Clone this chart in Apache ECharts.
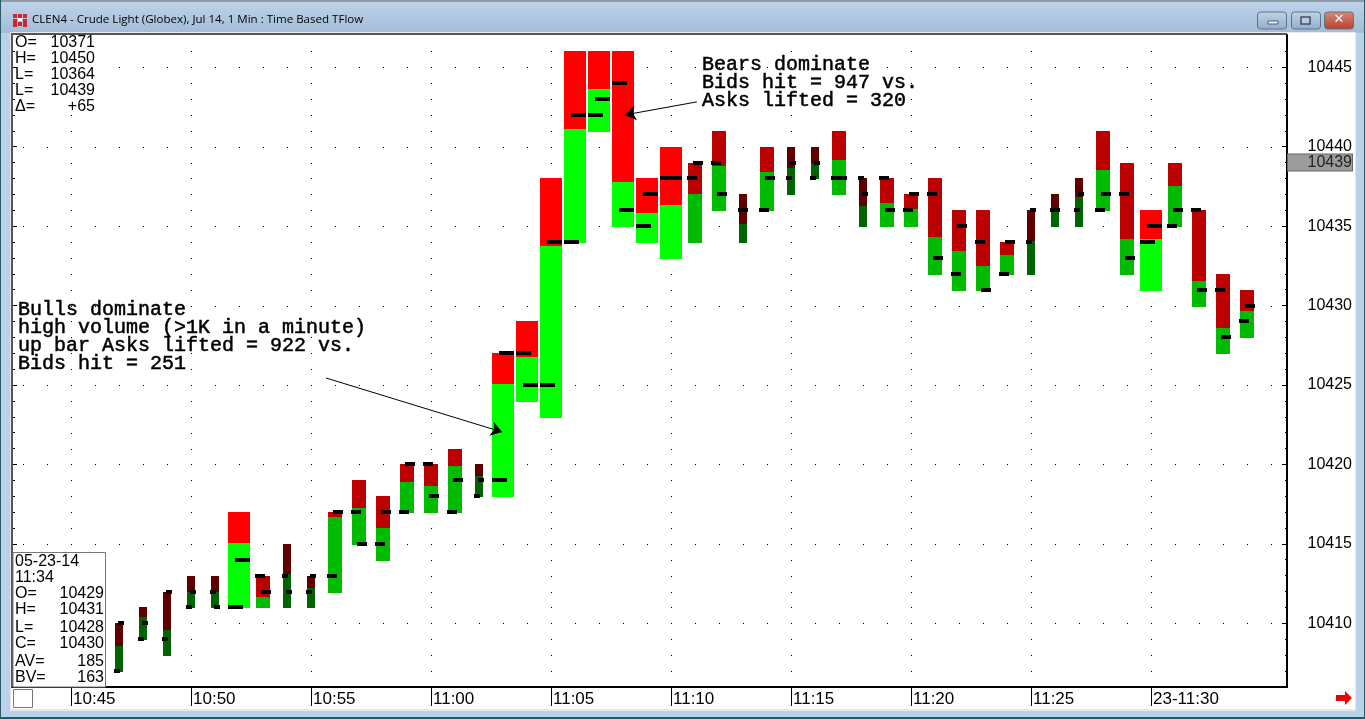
<!DOCTYPE html>
<html><head><meta charset="utf-8">
<style>html,body{margin:0;padding:0;background:#b9d1ea}#c{width:1365px;height:719px}</style>
<script src="https://cdn.jsdelivr.net/npm/echarts@6/dist/echarts.min.js"></script>
</head><body><div id="c"></div>
<script>
// minutes after 10:45
const minutes=[2,3,4,5,6,7,8,9,10,11,12,13,14,15,16,17,18,19,20,21,22,23,24,25,26,27,28,29,30,31,32,33,34,35,36,37,38,39,40,41,42,43,44,45,46,47,48,49];
const highs=[10410,10411,10412,10413,10413,10417,10413,10415,10413,10417,10419,10418,10420,10420,10421,10420,10427,10429,10438,10446,10446,10446,10438,10440,10439,10441,10437,10440,10440,10440,10441,10438,10438,10437,10438,10436,10436,10434,10436,10437,10438,10441,10439,10436,10439,10436,10432,10431];
const splits=[10408.57,10410.4,10409.58,10412,10412,10415.05,10411.66,10413.1,10412.2,10416.7,10417.26,10416,10418.9,10418.65,10419.9,10419.3,10425.06,10426.76,10433.75,10441.12,10443.63,10437.78,10435.83,10436.33,10437,10438.8,10435.14,10438.4,10438.66,10438.9,10439.16,10436.27,10436.46,10436.08,10434.32,10433.44,10432.5,10433.2,10434.07,10435.9,10436.83,10438.54,10434.2,10434.2,10437.53,10431.55,10428.59,10429.66];
const lows=[10407,10409,10408,10411,10411,10411,10411,10411,10411,10412,10415,10414,10417,10417,10417,10418,10418,10424,10423,10434,10441,10435,10434,10433,10434,10436,10434,10436,10437,10438,10437,10435,10435,10435,10432,10431,10431,10432,10432,10435,10435,10436,10432,10431,10435,10430,10427,10428];
const opens=[10407,10409,10409,10411,10412,10411,10413,10413,10412,10413,10417,10415,10417,10420,10417,10418,10419,10427,10425,10434,10442,10444,10435,10438,10438,10439,10436,10436,10438,10438,10438,10438,10438,10436,10437,10432,10434,10432,10434,10436,10436,10436,10437,10434,10435,10436,10431,10429];
const closes=[10410,10410,10412,10412,10411,10414,10412,10412,10413,10417,10415,10417,10420,10418,10419,10419,10427,10425,10434,10442,10443,10436,10437,10438,10439,10437,10436,10438,10439,10439,10438,10437,10436,10437,10433,10435,10431,10434,10436,10436,10437,10437,10433,10435,10436,10431,10428,10430];
// volume tier: 0 low, 1 medium, 2 high
const tiers=[0,0,0,0,0,2,1,0,0,1,1,1,1,1,1,0,2,2,2,2,2,2,2,2,1,1,0,1,0,0,1,0,1,1,1,1,1,1,0,0,0,1,1,2,1,1,1,1];

const priceLabels=[10410,10415,10420,10425,10430,10435,10440,10445];
const priceUnits=[10406,10407,10408,10409,10410,10411,10412,10413,10414,10415,10416,10417,10418,10419,10420,10421,10422,10423,10424,10425,10426,10427,10428,10429,10430,10431,10432,10433,10434,10435,10436,10437,10438,10439,10440,10441,10442,10443,10444,10445,10446];
const lastPrice=10439;
const timeTicks=[0,5,10,15,20,25,30,35,40,45];
const timeLabels=['10:45','10:50','10:55','11:00','11:05','11:10','11:15','11:20','11:25','23-11:30'];
const rowMinutes=[-2,-1,0,1,2,3,4,5,6,7,8,9,10,11,12,13,14,15,16,17,18,19,20,21,22,23,24,25,26,27,28,29,30,31,32,33,34,35,36,37,38,39,40,41,42,43,44,45,46,47,48,49,50];

const bullsArrow=[[10.625,10425.44],[17.96,10422.04]];
const bearsArrow=[[26.08,10442.82],[23.08,10442.0]];
const bullsNote='Bulls dominate\nhigh volume (>1K in a minute)\nup bar Asks lifted = 922 vs.\nBids hit = 251';
const bearsNote='Bears dominate\nBids hit = 947 vs.\nAsks lifted = 320';
const titleText='CLEN4 - Crude Light (Globex), Jul 14, 1 Min : Time Based TFlow';
const topInfoKeys=['O=','H=','L=','L=','Δ='];
const topInfoVals=['10371','10450','10364','10439','+65'];
const boxInfoKeys=['05-23-14','11:34','O=','H=','L=','C=','AV=','BV='];
const boxInfoVals=['','','10429','10431','10428','10430','185','163'];

const YMIN=10405.99,YMAX=10447.03,XMIN=-2.4167,XMAX=50.667;
const redByTier=['#600000','#bb0000','#ff0000'];
const greenByTier=['#006400','#00bb00','#00ff00'];
const barW=[8,14,22],tickLen=[6,10,15],tickOver=[1,1,0];

const rows=minutes.map((m,i)=>[m,lows[i],splits[i],highs[i],opens[i],closes[i],tiers[i]]);
const dots=[];
priceLabels.forEach(p=>rowMinutes.forEach(m=>dots.push([m,p])));
timeTicks.forEach(m=>priceUnits.forEach(p=>dots.push([m,p])));

function renderDot(params,api){
  const c=api.coord([api.value(0),api.value(1)]);
  return {type:'rect',shape:{x:Math.round(c[0]),y:Math.round(c[1]),width:1,height:1},style:{fill:'#000'}};
}
function renderBar(params,api){
  const t=api.value(6),w=barW[t],x=api.coord([api.value(0),api.value(3)])[0];
  const l=Math.round(x-w/2);
  const yh=Math.round(api.coord([0,api.value(3)])[1]);
  const ys=Math.round(api.coord([0,api.value(2)])[1]);
  const yl=Math.round(api.coord([0,api.value(1)])[1])+1;
  return {type:'group',children:[
    {type:'rect',shape:{x:l,y:yh,width:w,height:ys-yh},style:{fill:redByTier[t]}},
    {type:'rect',shape:{x:l,y:ys,width:w,height:yl-ys},style:{fill:greenByTier[t]}}
  ]};
}
function renderTicks(params,api){
  const t=api.value(6),w=barW[t],len=tickLen[t],x=Math.round(api.coord([api.value(0),api.value(3)])[0]);
  const yo=Math.round(api.coord([0,api.value(4)])[1]);
  const yc=Math.round(api.coord([0,api.value(5)])[1]);
  const o=x-w/2-tickOver[t];
  const c=x+w/2+tickOver[t]-len;
  return {type:'group',children:[
    {type:'rect',shape:{x:o,y:yo-2,width:len,height:4},style:{fill:'#000'}},
    {type:'rect',shape:{x:c,y:yc-2,width:len,height:4},style:{fill:'#000'}}
  ]};
}

const INFO='"Liberation Sans",Arial,sans-serif';
const g=[];
function rect(x,y,w,h,fill,z,extra){g.push(Object.assign({type:'rect',silent:true,z:z,shape:{x,y,width:w,height:h},style:{fill}},extra||{}));}
function txt(x,y,t,font,z,align,fill){g.push({type:'text',silent:true,z:z,x,y,style:{text:t,font,fill:fill||'#000',align:align||'left',verticalAlign:'middle'}});}
// window chrome
rect(0,0,1365,719,'#b9d1ea',-10);
g.push({type:'rect',silent:true,z:-9,shape:{x:1,y:3,width:1363,height:30},style:{fill:new echarts.graphic.LinearGradient(0,0,0,1,[{offset:0,color:'#bcd2e8'},{offset:1,color:'#a3bcd8'}])}});
rect(0,0,1365,2,'#8f9aa3',-9);
rect(0,717,1365,2,'#1c5f66',-9);
rect(0,0,1,719,'#2b5a66',-9);
rect(1364,0,1,719,'#2b5a66',-9);
rect(10,32,1346,679,'#e8e8e8',-8);
rect(11,33,1344,676,'#ffffff',-7);
rect(11,33,1276,2,'#555555',-6);
rect(11,33,2,655,'#555555',-6);
// title bar
[[13,14],[18,14],[23,14],[13,19],[23,19],[18,22],[13,23],[23,23]].forEach(p=>rect(p[0],p[1],4,4,'#d3262b',-5));
rect(18,18,4,3,'#ffffff',-5);
txt(32,20,titleText,'11.55px "Open Sans","Noto Sans",sans-serif',-5);
function btn(x,w,top,bot,sym){
  g.push({type:'rect',silent:true,z:-5,shape:{x,y:12,width:w,height:17,r:3},style:{stroke:'#5f7487',lineWidth:1,fill:new echarts.graphic.LinearGradient(0,0,0,1,[{offset:0,color:top},{offset:1,color:bot}])}});
}
btn(1257.5,29,'#c0d3e6','#93aecb');
btn(1291.5,29,'#c0d3e6','#93aecb');
btn(1324.5,29,'#d98a78','#b8402c');
g.push({type:'rect',silent:true,z:-4,shape:{x:1268,y:21,width:10,height:3},style:{fill:'#eef3f8',stroke:'#4e5f70',lineWidth:1}});
g.push({type:'rect',silent:true,z:-4,shape:{x:1301,y:17,width:9,height:7},style:{fill:'#b9cde2',stroke:'#3f4f60',lineWidth:1.5}});
txt(1339,20,'✕','bold 13px "DejaVu Sans"',-4,'center','#ffffff');
// corner box and red arrow
g.push({type:'rect',silent:true,z:60,shape:{x:13.5,y:689.5,width:19,height:18},style:{fill:'#fff',stroke:'#777',lineWidth:1}});
g.push({type:'polygon',silent:true,z:60,shape:{points:[[1336,695],[1345,695],[1345,691],[1352,698],[1345,705],[1345,701],[1336,701]]},style:{fill:'#ee0000'}});
// top left readout
rect(17,35,79,80,'#ffffff',50);
topInfoKeys.forEach((k,i)=>{
  const y=42.5+i*16;
  txt(15,y,k,'16px '+INFO,51);
  txt(95,y,topInfoVals[i],'16px '+INFO,51,'right');
});
// bottom left readout
g.push({type:'rect',silent:true,z:50,shape:{x:13,y:552.5,width:92.5,height:134.5},style:{fill:'#fff',stroke:'#777',lineWidth:1}});
const boxY=[561.5,577.5,593.5,609.5,627.5,643.5,661.5,677.5];
boxInfoKeys.forEach((k,i)=>{
  txt(15,boxY[i],k,'16px '+INFO,51);
  if(boxInfoVals[i])txt(104,boxY[i],boxInfoVals[i],'16px '+INFO,51,'right');
});
// notes
const NOTE='20px "Liberation Mono",monospace';
g.push({type:'text',silent:true,z:55,x:18,y:301,style:{text:bullsNote,font:NOTE,lineHeight:18,fill:'#000',verticalAlign:'top',stroke:'#000',lineWidth:0.5}});
g.push({type:'text',silent:true,z:55,x:702,y:56,style:{text:bearsNote,font:NOTE,lineHeight:18,fill:'#000',verticalAlign:'top',stroke:'#000',lineWidth:0.5}});

const chart=echarts.init(document.getElementById('c'),null,{renderer:'canvas',width:1365,height:719});
chart.setOption({
  animation:false,
  backgroundColor:'transparent',
  graphic:{elements:g},
  grid:{left:13,right:78,top:35,bottom:32,containLabel:false},
  xAxis:{type:'value',min:XMIN,max:XMAX,splitLine:{show:false},position:'bottom',
    axisLine:{show:true,onZero:false,lineStyle:{color:'#000',width:2}},
    axisTick:{show:true,customValues:timeTicks,length:19,lineStyle:{color:'#000',width:1}},
    axisLabel:{show:true,customValues:timeTicks,align:'left',margin:4,padding:[0,0,0,2],
      color:'#000',fontFamily:'Liberation Sans',fontSize:17,
      formatter:v=>timeLabels[timeTicks.indexOf(v)]}},
  yAxis:[
    {type:'value',min:YMIN,max:YMAX,position:'right',splitLine:{show:false},
     axisLine:{show:true,onZero:false,lineStyle:{color:'#000',width:2}},
     axisTick:{show:true,inside:true,customValues:priceLabels,length:5,lineStyle:{color:'#000',width:1}},
     axisLabel:{show:true,customValues:priceLabels.concat([lastPrice]),align:'right',margin:65,
       color:'#000',fontFamily:'Liberation Sans',fontSize:16,
       formatter:v=>v===lastPrice?'{tag|'+v+'}':String(v),
       rich:{tag:{backgroundColor:'#9c9c9c',borderColor:'#666',borderWidth:1,color:'#222',
         fontFamily:'Liberation Sans',fontSize:16,width:64,height:16,align:'right',lineHeight:17}}}},
    {type:'value',min:YMIN,max:YMAX,position:'right',splitLine:{show:false},
     axisLine:{show:false,onZero:false},
     axisTick:{show:true,inside:true,customValues:priceUnits,length:2,lineStyle:{color:'#000',width:1}},
     axisLabel:{show:false}},
    {type:'value',min:YMIN,max:YMAX,position:'left',splitLine:{show:false},
     axisLine:{show:false,onZero:false},
     axisTick:{show:true,inside:true,customValues:priceUnits,length:2,lineStyle:{color:'#000',width:1}},
     axisLabel:{show:false}},
    {type:'value',min:YMIN,max:YMAX,position:'left',splitLine:{show:false},
     axisLine:{show:false,onZero:false},
     axisTick:{show:true,inside:true,customValues:priceLabels,length:4,lineStyle:{color:'#000',width:1}},
     axisLabel:{show:false}}
  ],
  series:[
    {type:'custom',name:'grid dots',data:dots,renderItem:renderDot,silent:true,z:1,encode:{x:0,y:1}},
    {type:'custom',name:'bars',data:rows,renderItem:renderBar,silent:true,z:3,encode:{x:0,y:3}},
    {type:'custom',name:'open close',data:rows,renderItem:renderTicks,silent:true,z:4,encode:{x:0,y:4}},
    {type:'lines',coordinateSystem:'cartesian2d',name:'notes',silent:true,z:5,
     symbol:['none','arrow'],symbolSize:[0,11],
     lineStyle:{color:'#000',width:1,opacity:1,curveness:0},
     data:[{coords:bullsArrow},{coords:bearsArrow}]}
  ]
});
</script></body></html>
